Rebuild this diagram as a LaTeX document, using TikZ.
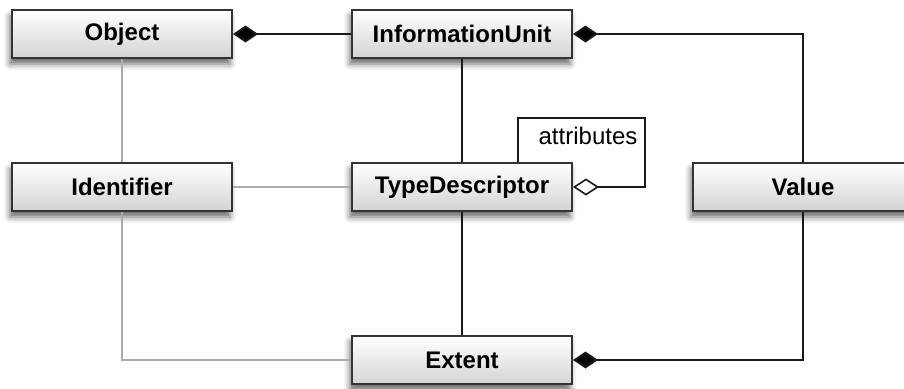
\documentclass[tikz,border=0pt]{standalone}
\usepackage{fontspec}
\setmainfont{Liberation Sans}
\usetikzlibrary{arrows.meta,shadows.blur,calc}

\tikzset{
  classbox/.style={
    rectangle, draw=black!80, line width=2pt,
    top color=white, bottom color=black!17,
    minimum width=220pt, minimum height=48pt,
    inner sep=0pt, font=\fontsize{24}{28}\selectfont\bfseries,
    blur shadow={shadow xshift=-2pt, shadow yshift=-6pt,
                 shadow blur radius=6pt, shadow opacity=60}
  },
  link/.style={draw=black!90, line width=2pt},
  weak/.style={draw=black!33, line width=2pt},
  comptip/.tip={Diamond[length=25pt,width=17pt,fill=black]},
  aggrtip/.tip={Diamond[open,length=26pt,width=17pt,fill=white,line width=1.6pt]},
  lbl/.style={font=\fontsize{24}{28}\selectfont, inner sep=0pt}
}

\begin{document}
\begin{tikzpicture}[x=1pt,y=-1pt]
  \useasboundingbox (0,0) rectangle (904,388);

  \coordinate (la) at (518,118);
  \coordinate (lb) at (645,118);

  \path (122,34) coordinate (objc)
        (462,34) coordinate (iuc)
        (122,187) coordinate (idc)
        (462,187) coordinate (tdc)
        (803,187) coordinate (valc)
        (462,360) coordinate (extc);

  % class boxes
  \node[classbox] (obj) at (objc) {Object};
  \node[classbox] (iu)  at (iuc)  {InformationUnit};
  \node[classbox] (id)  at (idc)  {Identifier};
  \node[classbox] (td)  at (tdc)  {TypeDescriptor};
  \node[classbox] (val) at (valc) {Value};
  \node[classbox] (ext) at (extc) {Extent};

  % associations (grey)
  \draw[weak] (obj.south) -- (id.north);
  \draw[weak] (id.east) -- (td.west);
  \draw[weak] (id.south) |- (ext.west);

  % associations (black)
  \draw[link] (iu.south) -- (td.north);
  \draw[link] (td.south) -- (ext.north);

  % compositions
  \draw[link, comptip-] (obj.east) -- (iu.west);
  \draw[link, comptip-] (iu.east) -| (val.north);
  \draw[link, -comptip] (val.south) |- (ext.east);

  % self aggregation
  \draw[link, -aggrtip] (td.north -| la) |- (lb) |- (td.east);
  \node[lbl] (attr) at (588,136) {attributes};
\end{tikzpicture}
\end{document}
